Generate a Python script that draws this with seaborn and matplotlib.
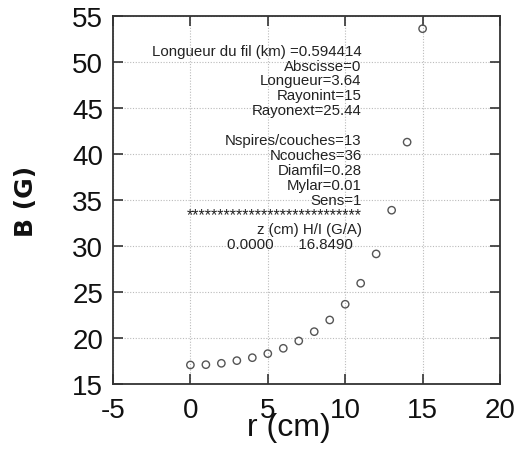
import matplotlib
matplotlib.use("Agg")
import matplotlib.pyplot as plt
import seaborn as sns
import pandas as pd

# data
r_cm = [0, 1, 2, 3, 4, 5, 6, 7, 8, 9, 10, 11, 12, 13, 14, 15]
b_gauss = [17.07, 17.10, 17.25, 17.54, 17.86, 18.30, 18.88, 19.68, 20.69,
           21.96, 23.67, 25.95, 29.14, 33.89, 41.29, 53.62]
x_ticks = [-5, 0, 5, 10, 15, 20]
y_ticks = [15, 20, 25, 30, 35, 40, 45, 50, 55]
info_lines = [
    "Longueur du fil (km) =0.594414",
    "Abscisse=0",
    "Longueur=3.64",
    "Rayonint=15",
    "Rayonext=25.44",
    "",
    "Nspires/couches=13",
    "Ncouches=36",
    "Diamfil=0.28",
    "Mylar=0.01",
    "Sens=1",
    "*" * 28,
    "z (cm) H/I (G/A)",
]
last_line = "0.0000      16.8490"

sns.set_theme(style="ticks")
plt.rcParams["font.family"] = ["Liberation Sans", "DejaVu Sans"]

df = pd.DataFrame({"r": r_cm, "B": b_gauss})

fig = plt.figure(figsize=(5.19, 4.52), dpi=100)
ax = fig.add_axes([113 / 519, 1 - 385 / 452, 387 / 519, 368 / 452])

sns.scatterplot(data=df, x="r", y="B", ax=ax, marker="o", s=28,
                facecolor="none", edgecolor="#555555", linewidth=1.0, zorder=3)

ax.set_xlim(-5, 20)
ax.set_ylim(15, 55)
ax.set_xticks(x_ticks)
ax.set_yticks(y_ticks)
ax.set_xticklabels([str(v) for v in x_ticks])
ax.set_yticklabels([str(v) for v in y_ticks])
ax.grid(True, linestyle=(0, (1, 1.5)), color="#bbbbbb", linewidth=0.8)
ax.tick_params(direction="in", length=7, width=1.2, color="#333333",
               top=True, right=True, labelsize=20, labelcolor="#111111")
ax.tick_params(axis="x", pad=9)
ax.tick_params(axis="y", pad=7)
for sp in ax.spines.values():
    sp.set_linewidth(1.3)
    sp.set_color("#333333")

ax.set_xlabel("r (cm)", fontsize=23, color="#111111")
ax.set_ylabel("B (G)", fontsize=18, fontweight="bold", family="DejaVu Sans",
              color="#111111")
ax.xaxis.set_label_coords(0.455, -0.075)
ax.yaxis.set_label_coords(-0.195, 0.5)

y0 = (385 - 51.7) / 368
step = 14.9 / 368
xr = (361.7 - 113) / 387
for i, line in enumerate(info_lines):
    if line:
        fs = 11.5 if line.startswith("*") else 10.8
        ax.text(xr, y0 - i * step, line, transform=ax.transAxes, ha="right",
                va="center", fontsize=fs, color="#222222")
ax.text((226.7 - 113) / 387, y0 - len(info_lines) * step, last_line,
        transform=ax.transAxes, ha="left", va="center", fontsize=10.8,
        color="#222222")

fig.savefig("out.png", dpi=100)
